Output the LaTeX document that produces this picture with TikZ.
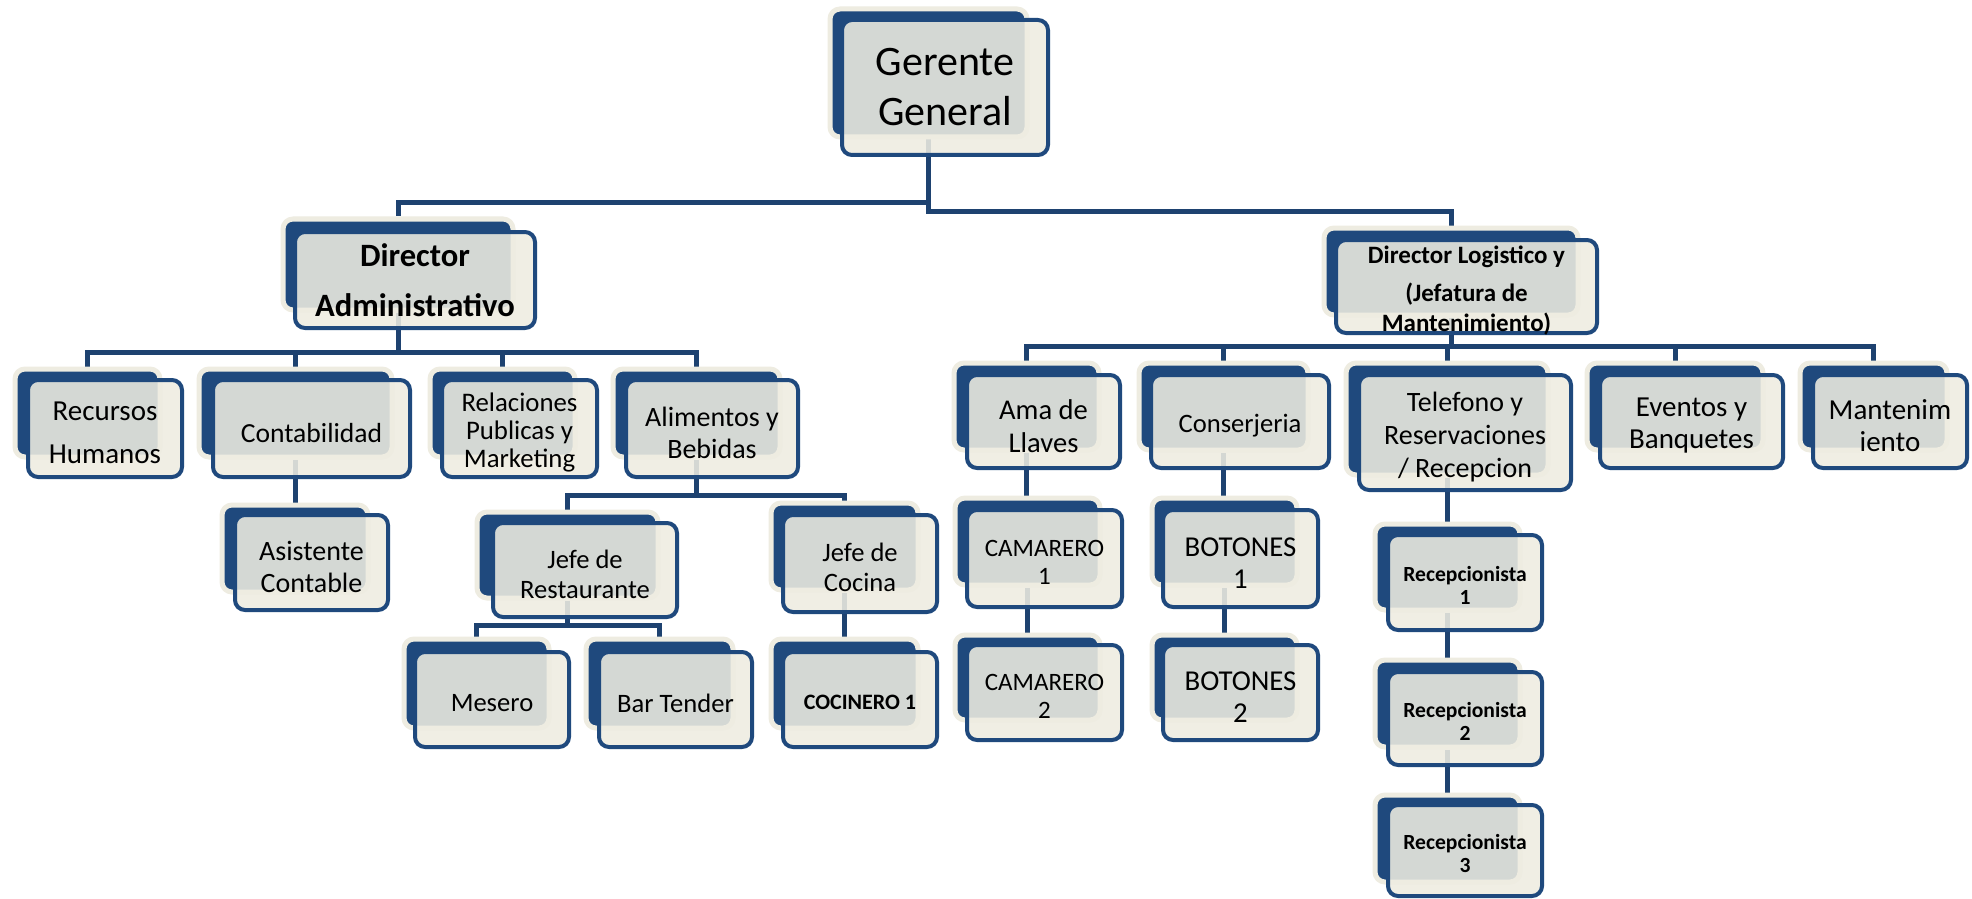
\documentclass[tikz,border=0pt]{standalone}
\usepackage{fontspec}
\setmainfont{Carlito}
\usetikzlibrary{fit,backgrounds}
\definecolor{boxblue}{RGB}{31,73,125}
\definecolor{connblue}{RGB}{30,66,112}
\definecolor{cream}{RGB}{238,236,225}
\tikzset{
 backbox/.style={rectangle, rounded corners=5pt, fill=boxblue, draw=cream, line width=2.5pt, inner sep=0pt},
 frontbox/.style={rectangle, rounded corners=5pt, fill=cream, fill opacity=0.88, draw=boxblue, line width=2pt, inner sep=0pt},
 boxtext/.style={inner sep=0pt, align=center, text=black},
 conn/.style={draw=connblue, line width=2.5pt}
}
% [shift factor], name, back corners, front corners, font size, line skip, extra font, text
\newcommand{\orgbox}[8][0.15]{%
 \node[backbox, fit={#3}] (#2-b) {};
 \node[frontbox, fit={#4}] (#2) {};
 \node[boxtext, font={\fontsize{#5pt}{#6pt}\selectfont#7}] (#2-t) at ([yshift={-#1*#5pt}]#2.center) {#8};
}
\begin{document}
\begin{tikzpicture}[x=0.5pt, y=-0.5pt]
\path[use as bounding box] (0,0) rectangle (1972,899);
% level 0
\orgbox[0]{gg}{(830,9)(1027,137)}{(842,20)(1048,155)}{21}{25}{}{Gerente\\General}
% level 1
\orgbox[0]{da}{(283,219)(513,310)}{(295,232)(535,328)}{16.3}{25}{\bfseries}{Director\\Administrativo}
\orgbox{dl}{(1324,228)(1578,315)}{(1336,240)(1597,333)}{12.5}{15}{\bfseries}{Director Logistico y\\[4pt](Jefatura de\\Mantenimiento)}
% level 2 left
\orgbox{rh}{(15,369)(160,457)}{(28,380)(182,477)}{14.5}{21.5}{}{Recursos\\Humanos}
\orgbox{co}{(199,369)(392,457)}{(213,380)(410,477)}{13.8}{16}{}{Contabilidad}
\orgbox{rp}{(430,369)(575,457)}{(442,380)(597,477)}{13.4}{14}{}{Relaciones\\Publicas y\\Marketing}
\orgbox{ab}{(613,369)(780,457)}{(626,380)(798,477)}{14}{16}{}{Alimentos y\\Bebidas}
% level 2 right
\orgbox{al}{(954,363)(1099,450)}{(967,375)(1120,468)}{14.3}{16.5}{}{Ama de\\Llaves}
\orgbox{cj}{(1139,363)(1308,450)}{(1151,375)(1329,468)}{13.3}{16}{}{Conserjeria}
\orgbox{tr}{(1346,363)(1548,475)}{(1359,375)(1571,490)}{14}{16.5}{}{Telefono y\\Reservaciones\\/ Recepcion}
\orgbox{eb}{(1587,363)(1763,450)}{(1600,375)(1783,468)}{14.5}{16}{}{Eventos y\\Banquetes}
\orgbox{mt}{(1800,363)(1947,450)}{(1813,375)(1967,468)}{14.5}{16}{}{Mantenim\\iento}
% level 3
\orgbox{ac}{(222,505)(368,592)}{(235,515)(388,610)}{14}{16}{}{Asistente\\Contable}
\orgbox{jr}{(477,512)(658,598)}{(493,523)(677,617)}{13.3}{15}{}{Jefe de\\Restaurante}
\orgbox{jc}{(771,503)(918,590)}{(783,515)(937,612)}{13.3}{15}{}{Jefe de\\Cocina}
\orgbox{c1}{(955,498)(1100,585)}{(967,510)(1122,607)}{12.5}{14}{}{CAMARERO\\1}
\orgbox{b1}{(1152,498)(1297,585)}{(1163,510)(1318,607)}{14.4}{16}{}{BOTONES\\1}
\orgbox{r1}{(1375,524)(1520,610)}{(1388,535)(1542,630)}{10.8}{11.5}{\bfseries}{Recepcionista\\1}
% level 4
\orgbox{me}{(404,639)(549,728)}{(415,652)(569,747)}{13.3}{16}{}{Mesero}
\orgbox{bt}{(586,639)(733,728)}{(599,652)(752,747)}{13.3}{16}{}{Bar Tender}
\orgbox{ck}{(771,639)(918,728)}{(783,652)(937,747)}{11}{14}{\bfseries}{COCINERO 1}
\orgbox{c2}{(955,635)(1100,720)}{(967,645)(1122,740)}{12.5}{14}{}{CAMARERO\\2}
\orgbox{b2}{(1152,635)(1297,720)}{(1163,645)(1318,740)}{14.4}{16}{}{BOTONES\\2}
\orgbox{r2}{(1375,660)(1520,747)}{(1388,672)(1542,765)}{10.8}{11.5}{\bfseries}{Recepcionista\\2}
\orgbox{r3}{(1375,795)(1520,882)}{(1388,805)(1542,896)}{10.8}{11.5}{\bfseries}{Recepcionista\\3}
\begin{pgfonlayer}{background}
\fill[white] (0,0) rectangle (1972,899);
% top
\draw[conn] (gg-b.south) -- (gg-b.south |- 0,203) -| (da-b.north);
\draw[conn] (gg-b.south) -- (gg-b.south |- 0,212) -| (dl-b.north);
% director administrativo
\foreach \c in {rh,co,rp,ab}
  \draw[conn] (da-b.south) -- (da-b.south |- 0,352) -| (\c-b.north);
\draw[conn] (co-b.south) -- (co-b.south |- ac-b.north);
\foreach \c in {jr,jc}
  \draw[conn] (ab-b.south) -- (ab-b.south |- 0,495) -| (\c-b.north);
\foreach \c in {me,bt}
  \draw[conn] (jr-b.south) -- (jr-b.south |- 0,625) -| (\c-b.north);
\draw[conn] (jc-b.south) -- (jc-b.south |- ck-b.north);
% director logistico
\foreach \c in {al,cj,tr,eb,mt}
  \draw[conn] (dl-b.south) -- (dl-b.south |- 0,346) -| (\c-b.north);
\draw[conn] (al-b.south) -- (al-b.south |- c1-b.north);
\draw[conn] (c1-b.south) -- (c1-b.south |- c2-b.north);
\draw[conn] (cj-b.south) -- (cj-b.south |- b1-b.north);
\draw[conn] (b1-b.south) -- (b1-b.south |- b2-b.north);
\draw[conn] (tr-b.south) -- (tr-b.south |- r1-b.north);
\draw[conn] (r1-b.south) -- (r1-b.south |- r2-b.north);
\draw[conn] (r2-b.south) -- (r2-b.south |- r3-b.north);
\end{pgfonlayer}
\end{tikzpicture}
\end{document}
